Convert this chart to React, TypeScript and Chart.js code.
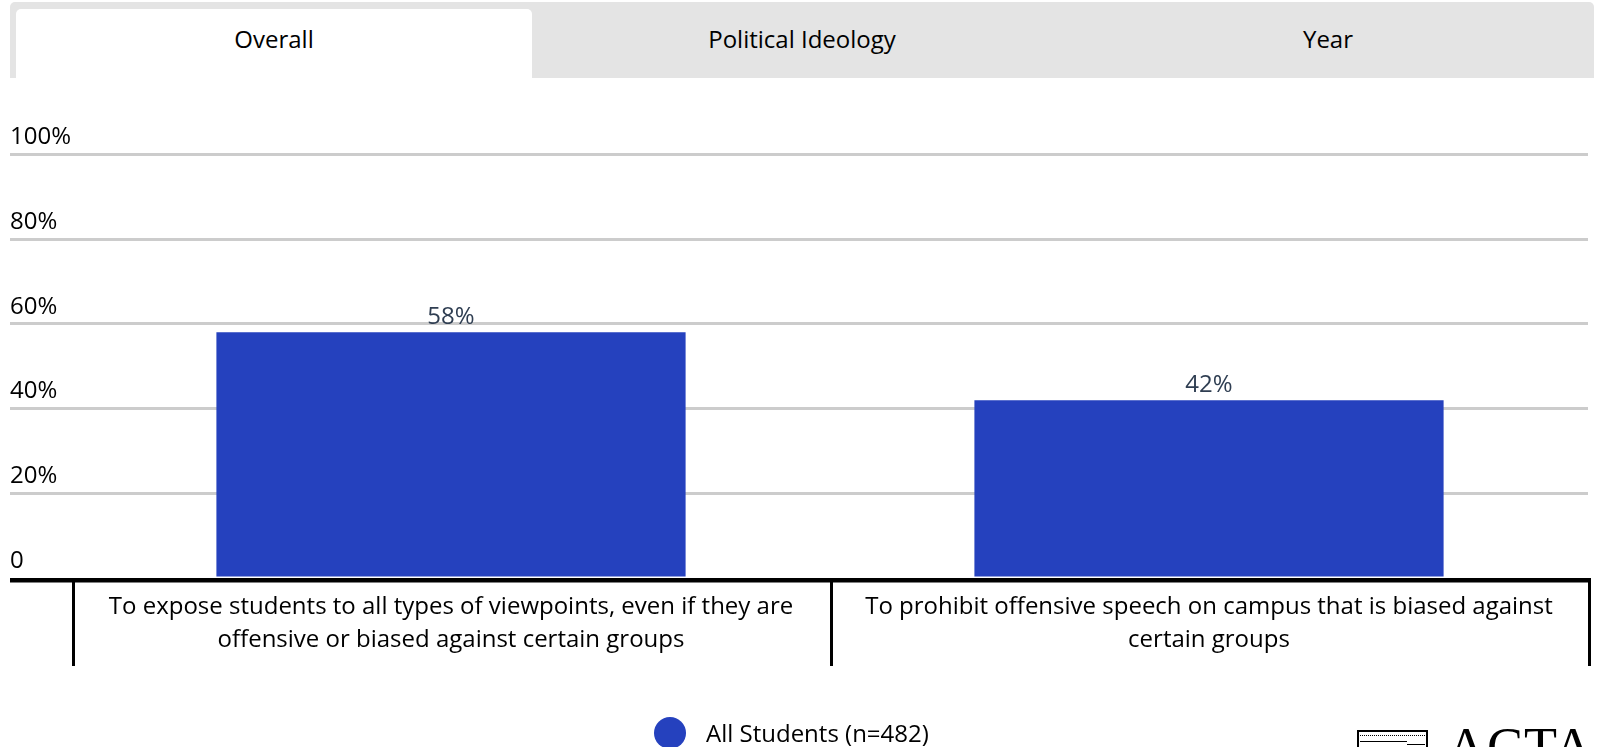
import React, { useEffect, useRef } from "react";
import { Chart, registerables } from "chart.js";

Chart.register(...registerables);

// ---- data ----
const TABS = ["Overall", "Political Ideology", "Year"];
const CATEGORY_LINES: string[][] = [
  ["To expose students to all types of viewpoints, even if they are", "offensive or biased against certain groups"],
  ["To prohibit offensive speech on campus that is biased against", "certain groups"],
];
const SERIES_LABEL = "All Students (n=482)";
const SERIES_VALUES = [58, 42];
const Y_TICK_VALUES = [0, 20, 40, 60, 80, 100];
const Y_TICK_LABELS = ["0", "20%", "40%", "60%", "80%", "100%"];

// ---- style ----
const FONT = "'Open Sans', 'Noto Sans', sans-serif";
const BAR_COLOR = "#2541be";
const GRID_COLOR = "#cccccc";
const VALUE_COLOR = "#2f3e52";

// value labels above each bar
const valueLabels = {
  id: "valueLabels",
  afterDatasetsDraw(chart: any) {
    const { ctx } = chart;
    const meta = chart.getDatasetMeta(0);
    ctx.save();
    ctx.font = `24px ${FONT}`;
    ctx.fillStyle = VALUE_COLOR;
    ctx.textAlign = "center";
    ctx.textBaseline = "alphabetic";
    meta.data.forEach((bar: any, i: number) => {
      const v = chart.data.datasets[0].data[i];
      ctx.fillText(`${v}%`, bar.x, bar.y - 8);
    });
    ctx.restore();
  },
};

// heavy base line plus the vertical separators around the category labels
const baseAndDividers = {
  id: "baseAndDividers",
  afterDraw(chart: any) {
    const { ctx } = chart;
    const x = chart.scales.x;
    const y = chart.scales.y;
    const y0 = y.getPixelForValue(0);
    ctx.save();
    ctx.fillStyle = "#000";
    ctx.fillRect(y.left, y0, x.right + 2 - y.left, 4.5);
    const n = chart.data.labels.length;
    const step = (x.right - x.left) / n;
    for (let i = 0; i <= n; i++) {
      ctx.fillRect(x.left + step * i, y0, 3, 88);
    }
    ctx.restore();
  },
};

function BarChart() {
  const ref = useRef<HTMLCanvasElement | null>(null);
  useEffect(() => {
    if (!ref.current) return;
    const chart = new Chart(ref.current, {
      type: "bar",
      data: {
        labels: CATEGORY_LINES,
        datasets: [
          {
            label: SERIES_LABEL,
            data: SERIES_VALUES,
            backgroundColor: BAR_COLOR,
            barPercentage: 0.619,
            categoryPercentage: 1,
          },
        ],
      },
      options: {
        responsive: false,
        animation: false,
        events: [],
        layout: { padding: { left: 10, right: 10, top: 154.5, bottom: 81 } },
        plugins: { legend: { display: false }, tooltip: { enabled: false } },
        scales: {
          x: {
            grid: { display: false, drawTicks: false },
            border: { display: false },
            ticks: {
              color: "#000",
              font: { family: FONT, size: 24, lineHeight: 33 / 24 },
              padding: 13,
              autoSkip: false,
              maxRotation: 0,
              minRotation: 0,
            },
            afterFit: (s: any) => {
              s.height = 88;
            },
          },
          y: {
            min: 0,
            max: 100,
            afterBuildTicks: (s: any) => {
              s.ticks = Y_TICK_VALUES.map((v) => ({ value: v }));
            },
            afterFit: (s: any) => {
              s.width = 62;
            },
            border: { display: false },
            grid: {
              color: (c: any) => (c.tick && c.tick.value === 0 ? "rgba(0,0,0,0)" : GRID_COLOR),
              lineWidth: 3,
              drawTicks: true,
              tickLength: 62,
            },
            ticks: {
              crossAlign: "far",
              labelOffset: -17,
              padding: 0,
              color: "#000",
              font: { family: FONT, size: 24 },
              callback: (v: any) => Y_TICK_LABELS[Y_TICK_VALUES.indexOf(Number(v))] ?? "",
            },
          },
        },
      } as any,
      plugins: [valueLabels, baseAndDividers],
    });
    return () => chart.destroy();
  }, []);
  return (
    <canvas
      ref={ref}
      width={1598}
      height={747}
      style={{ position: "absolute", left: 0, top: 0, width: 1598, height: 747 }}
    />
  );
}

export default function App() {
  return (
    <div
      style={{
        position: "absolute",
        left: 0,
        top: 0,
        width: 1598,
        height: 747,
        overflow: "hidden",
        background: "#fff",
        fontFamily: FONT,
      }}
    >
      {/* tab strip */}
      <div
        style={{
          position: "absolute",
          left: 10,
          top: 2,
          width: 1584,
          height: 76,
          background: "#e4e4e4",
          borderRadius: "5px 5px 0 0",
          display: "flex",
        }}
      >
        {TABS.map((t, i) => (
          <div
            key={t}
            style={{
              flex: 1,
              position: "relative",
              display: "flex",
              alignItems: "center",
              justifyContent: "center",
              fontSize: 24,
              color: "#000",
            }}
          >
            {i === 0 && (
              <div
                style={{
                  position: "absolute",
                  left: 6,
                  right: 6,
                  top: 7,
                  bottom: 0,
                  background: "#fff",
                  borderRadius: "5px 5px 0 0",
                }}
              />
            )}
            <span style={{ position: "relative", top: -2, left: i === 2 ? -2 : 0 }}>{t}</span>
          </div>
        ))}
      </div>

      <BarChart />

      {/* legend */}
      <div
        style={{
          position: "absolute",
          left: 654,
          top: 717,
          width: 32,
          height: 32,
          borderRadius: "50%",
          background: BAR_COLOR,
        }}
      />
      <div
        style={{
          position: "absolute",
          left: 706,
          top: 721,
          fontSize: 24,
          lineHeight: "24px",
          color: "#000",
          whiteSpace: "nowrap",
        }}
      >
        {SERIES_LABEL}
      </div>

      {/* ACTA mark */}
      <div
        style={{
          position: "absolute",
          left: 1357,
          top: 730,
          width: 67,
          height: 30,
          border: "2px solid #000",
        }}
      >
        <div style={{ position: "absolute", left: 1, right: 1, top: 3, borderTop: "1px dotted #000" }} />
        <div style={{ position: "absolute", left: 1, width: 47, top: 9, borderTop: "1.5px solid #000" }} />
        <div style={{ position: "absolute", left: 48, right: 1, top: 12, borderTop: "1.5px solid #000" }} />
      </div>
      <div
        style={{
          position: "absolute",
          left: 1447,
          top: 720,
          fontFamily: "'Liberation Serif', 'DejaVu Serif', serif",
          fontSize: 54,
          lineHeight: "54px",
          color: "#000",
          letterSpacing: 1,
          whiteSpace: "nowrap",
        }}
      >
        ACTA
      </div>
    </div>
  );
}
